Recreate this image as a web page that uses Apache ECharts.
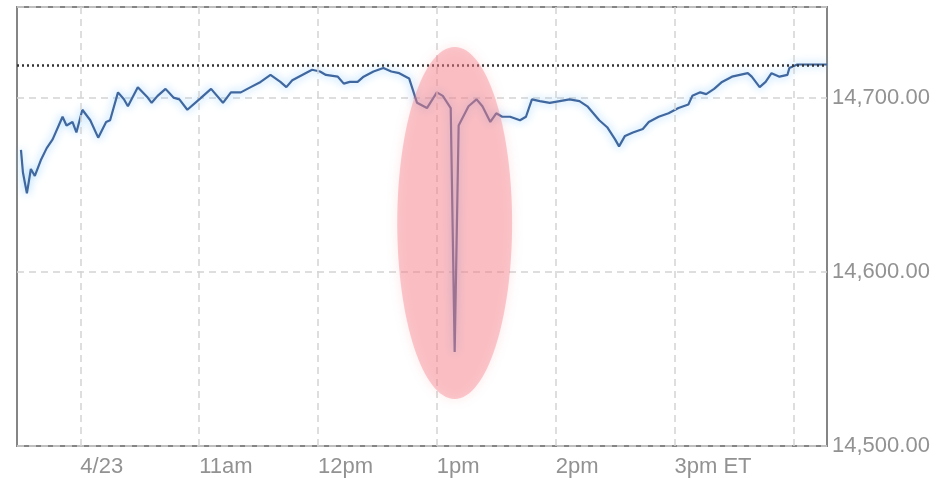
<!DOCTYPE html>
<html>
<head>
<meta charset="utf-8">
<script src="https://cdn.jsdelivr.net/npm/echarts@6/dist/echarts.min.js"></script>
<style>
html,body{margin:0;padding:0;background:#fff;}
#chart{width:950px;height:478px;}
</style>
</head>
<body>
<div id="chart"></div>
<script>
// ---- data ----
const times = ['9:30','9:31','9:33','9:35','9:37','9:40','9:43','9:46','9:51','9:53','9:56','9:58',
  '10:01','10:05','10:09','10:13','10:15','10:19','10:22','10:24','10:29','10:34','10:36','10:39','10:43','10:47','10:50','10:54','10:59',
  '11:04','11:06','11:12','11:16','11:21','11:26','11:31','11:36','11:41','11:44','11:47','11:52','11:57',
  '12:01','12:04','12:10','12:13','12:16','12:20','12:23','12:28','12:33','12:37','12:41','12:46','12:50','12:55',
  '13:00','13:03','13:07','13:08','13:09','13:11','13:16','13:20','13:23','13:27','13:30','13:33','13:37','13:42','13:45','13:48','13:52','13:57',
  '14:02','14:07','14:12','14:16','14:19','14:22','14:26','14:30','14:32','14:35','14:39','14:44','14:47','14:52','14:57',
  '15:02','15:07','15:09','15:13','15:16','15:20','15:24','15:29','15:33','15:37','15:39','15:43','15:46','15:49','15:53','15:57','15:58',
  '16:02','16:07','16:17'];
const values = [14670,14657,14645,14659,14655,14664,14671,14676,14689,14684,14686,14680,
  14693,14687,14677,14686,14687,14703,14699,14695,14706,14700,14697,14701,14705,14700,14699,14693,14698,
  14703,14705,14697,14703,14703,14706,14709,14713,14709,14706,14710,14713,14716,
  14715,14713,14712,14708,14709,14709,14712,14715,14717,14715,14714,14711,14697,14694,
  14703,14701,14694,14694,14554,14684,14695,14699,14695,14686,14691,14689,14689,14687,14689,14699,14698,14697,
  14698,14699,14698,14695,14691,14687,14683,14676,14672,14678,14680,14682,14686,14689,14691,
  14694,14696,14701,14703,14702,14705,14709,14712,14713,14714,14712,14706,14709,14714,14712,14713,14717,
  14719,14719,14719];
const prevClose = 14718.4;
const yTicks = [14500, 14600, 14700];
const xTickTimes = ['10:00','11:00','12:00','13:00','14:00','15:00'];
const xTickLabels = ['4/23','11am','12pm','1pm','2pm','3pm ET'];
const gridTimes = ['10:00','11:00','12:00','13:00','14:00','15:00','16:00'];
const xStart = '9:28', xEnd = '16:17';
const yMin = 14500, yMax = 14752;
// highlighted region (annotation): centre time/value and half extents
const highlightCenter = ['13:09', 14628];
const highlightHalfMinutes = 29;
const highlightHalfValue = 101;

function toMin(t){ const p = t.split(':'); return (+p[0])*60 + (+p[1]); }
const seriesData = times.map((t,i)=>[toMin(t), values[i]]);
const tickMins = xTickTimes.map(toMin);

const chart = echarts.init(document.getElementById('chart'), null, {renderer:'canvas'});
const gridColor = '#d4d4d4';
const textColor = '#929292';
chart.setOption({
  animation:false,
  backgroundColor:'#ffffff',
  grid:{left:17, right:123, top:7, bottom:32, show:true, borderColor:'#858585', borderWidth:2, backgroundColor:'transparent'},
  xAxis:{
    type:'value', min:toMin(xStart), max:toMin(xEnd),
    axisLine:{show:false}, axisTick:{show:false}, splitLine:{show:false},
    axisLabel:{
      customValues: tickMins,
      formatter:(v)=>{ const i = tickMins.indexOf(v); return i>=0 ? xTickLabels[i] : ''; },
      align:'left', margin:10, color:textColor, fontSize:22,
      fontFamily:'Liberation Sans, Arial, sans-serif'
    }
  },
  yAxis:{
    type:'value', position:'right', min:yMin, max:yMax, interval:100,
    axisLine:{show:false}, axisTick:{show:false},
    splitLine:{show:true, lineStyle:{color:gridColor, type:[7,5], width:1.5}},
    axisLabel:{
      showMaxLabel:false, margin:5, color:textColor, fontSize:22, padding:[10,0,0,0],
      fontFamily:'Liberation Sans, Arial, sans-serif',
      formatter:(v)=> yTicks.indexOf(v)>=0 ? v.toLocaleString('en-US',{minimumFractionDigits:2, maximumFractionDigits:2}) : ''
    }
  },
  series:[
    {
      type:'line', data:[], silent:true, z:1,
      markLine:{
        silent:true, symbol:'none', label:{show:false},
        lineStyle:{color:gridColor, type:[7,5], width:1.5},
        data: gridTimes.map(t=>({xAxis: toMin(t)}))
      }
    },
    {
      type:'line', data:seriesData, showSymbol:false, z:3,
      lineStyle:{color:'#41679f', width:2.2, shadowColor:'rgba(120,195,255,0.9)', shadowBlur:9},
      markLine:{
        silent:true, symbol:'none', label:{show:false},
        lineStyle:{color:'#333333', type:[2,3], width:2.5},
        data:[{yAxis: prevClose}]
      }
    }
  ]
});

// annotation ellipse positioned from data coordinates
const c = chart.convertToPixel({gridIndex:0}, [toMin(highlightCenter[0]), highlightCenter[1]]);
const e = chart.convertToPixel({gridIndex:0}, [toMin(highlightCenter[0]) + highlightHalfMinutes, highlightCenter[1] + highlightHalfValue]);
chart.setOption({
  graphic:[{
    type:'ellipse', z:100, silent:true,
    shape:{cx:c[0], cy:c[1], rx:Math.abs(e[0]-c[0]), ry:Math.abs(c[1]-e[1])},
    style:{fill:'rgba(245,125,135,0.4)', shadowBlur:12, shadowColor:'rgba(245,125,135,0.45)'}
  }]
});
</script>
</body>
</html>
